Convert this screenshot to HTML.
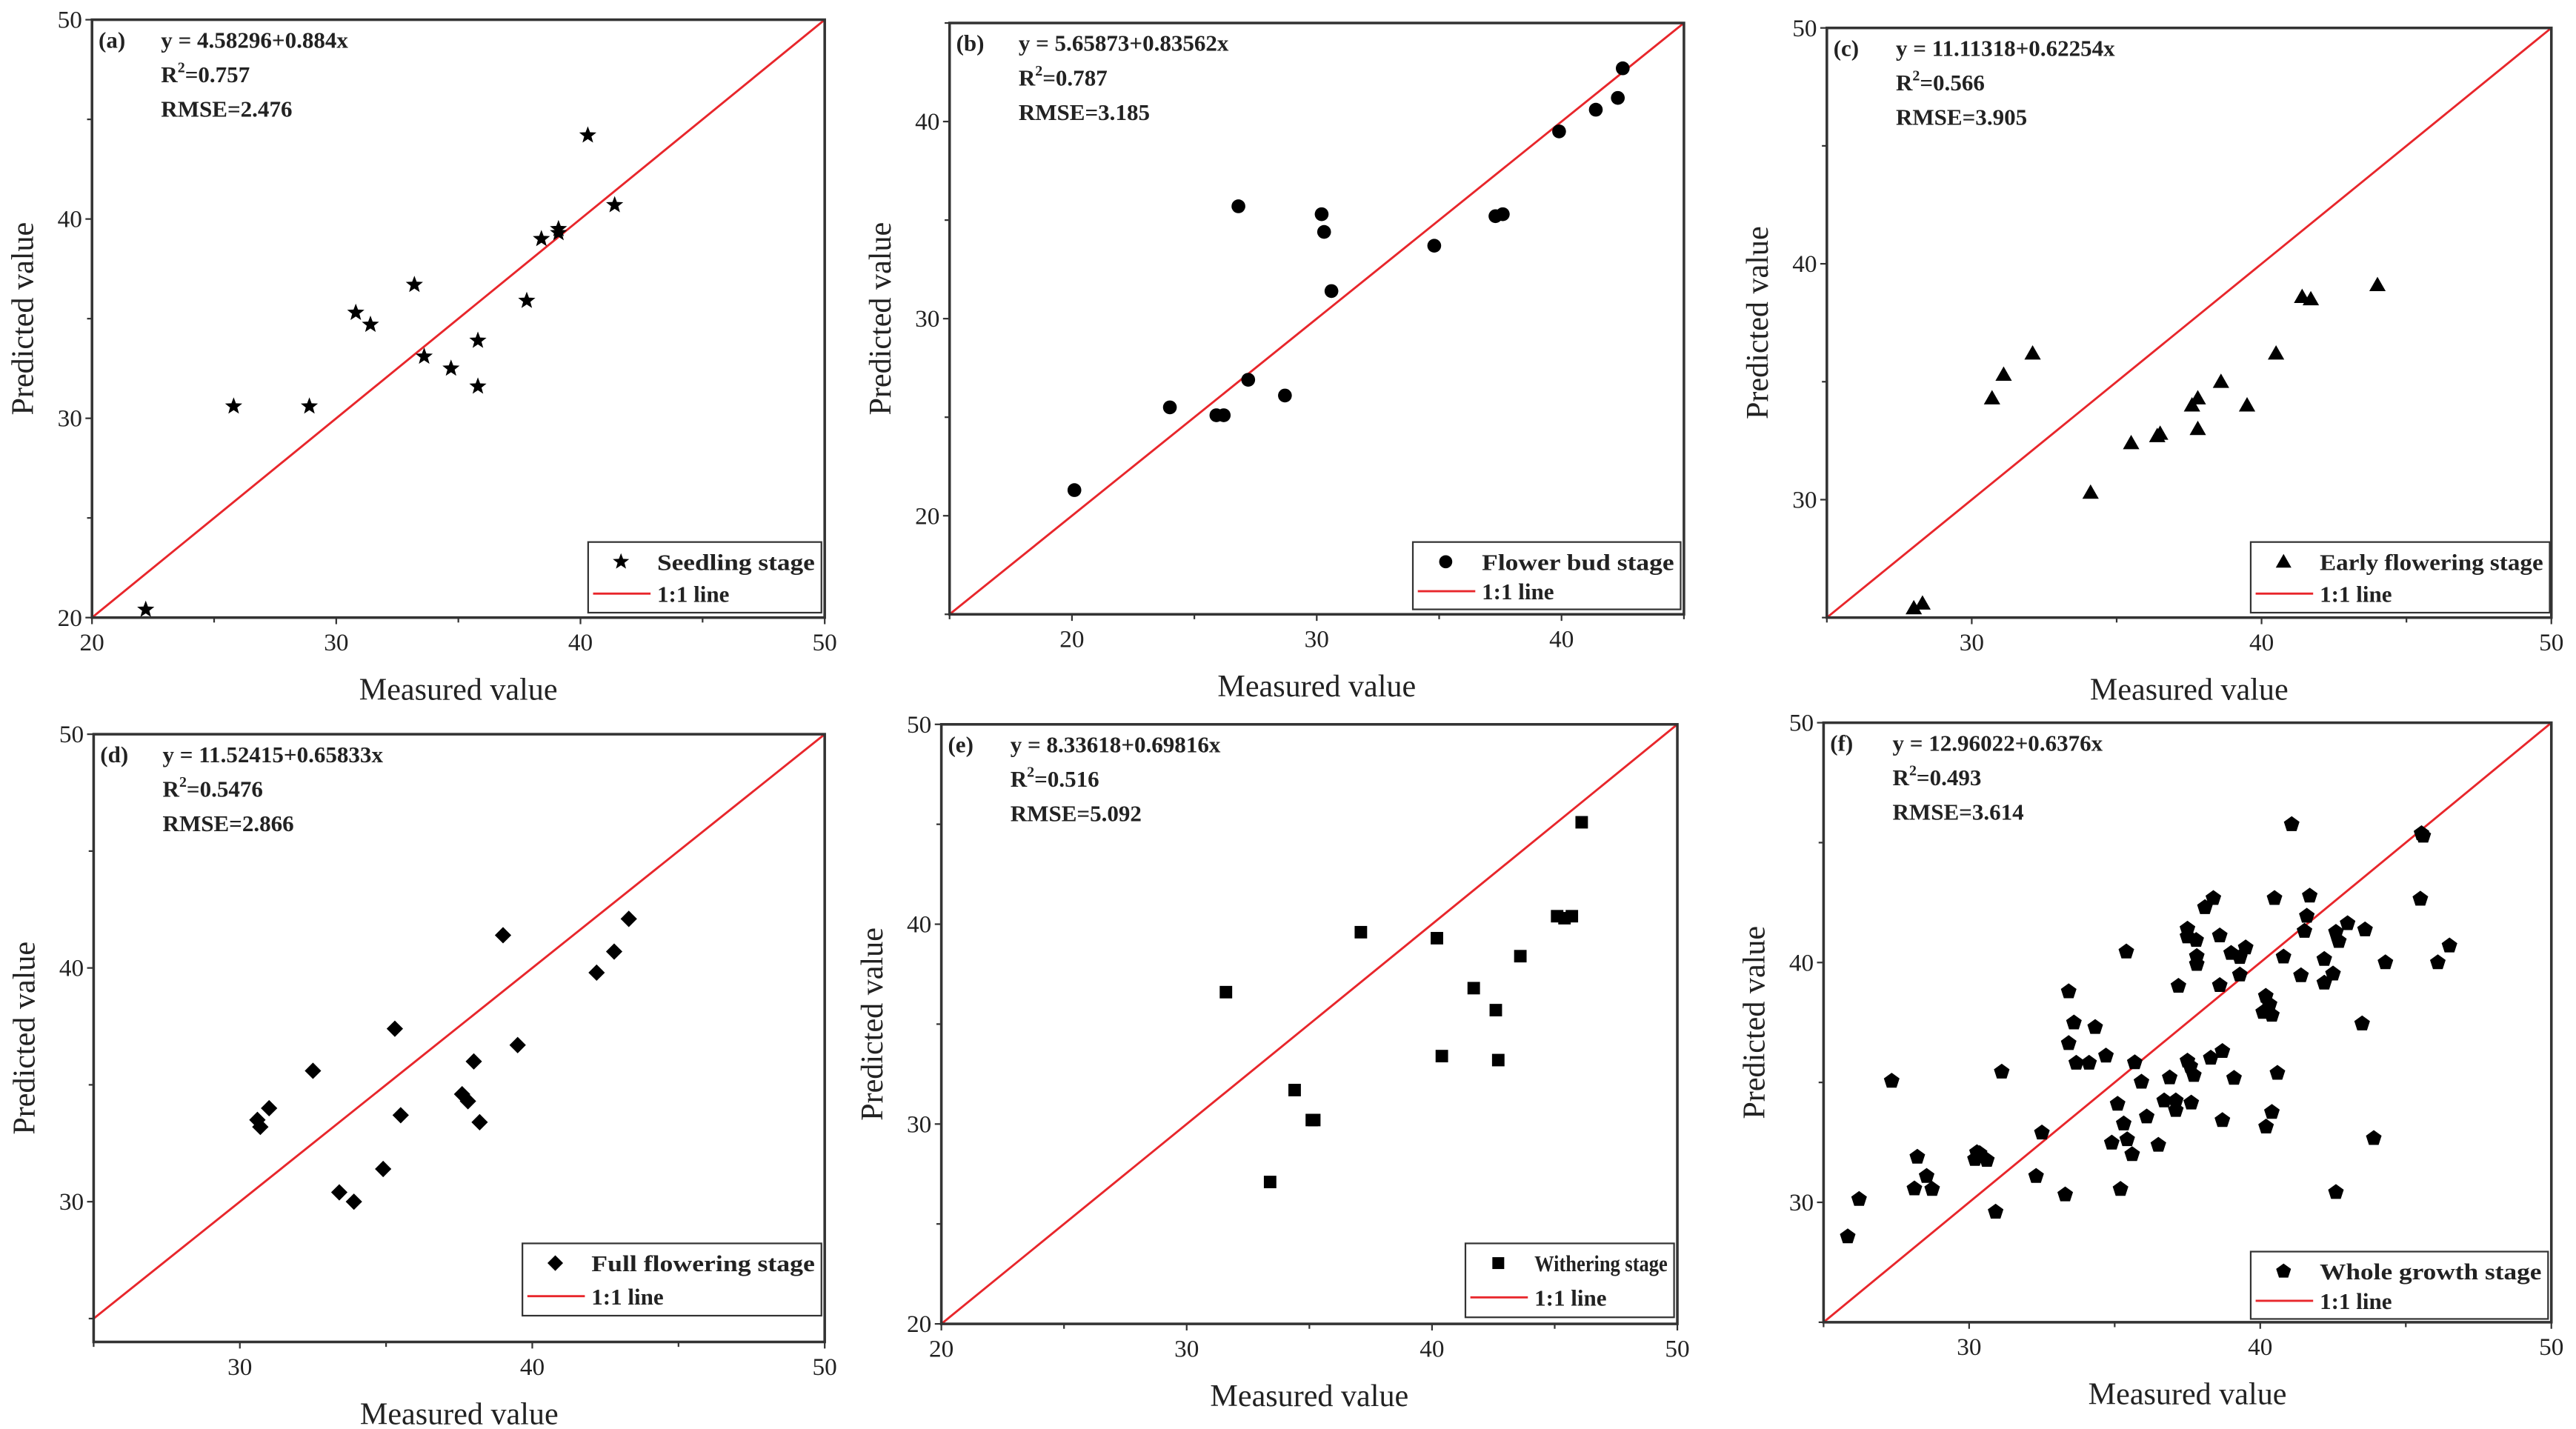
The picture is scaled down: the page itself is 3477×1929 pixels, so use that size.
<!DOCTYPE html>
<html><head><meta charset="utf-8"><style>
html,body{margin:0;padding:0;background:#fff;}
svg{display:block;}
svg text{font-family:"Liberation Serif","DejaVu Serif",serif;fill:#222;}
</style></head><body>
<svg id="fig" width="3477" height="1929" viewBox="0 0 1568 870" preserveAspectRatio="none" font-family="Liberation Serif, DejaVu Serif, serif" xmlns="http://www.w3.org/2000/svg"></svg>
<script>
// ----- data -----
const aMeasured=[22.2,25.8,28.9,30.8,31.4,33.2,33.6,34.7,35.8,35.8,37.8,38.4,39.1,39.1,40.3,41.4];
const aPredicted=[20.4,30.6,30.6,35.3,34.7,36.7,33.1,32.5,33.9,31.6,35.9,39.0,39.5,39.3,44.2,40.7];
const bMeasured=[20.1,24.0,25.9,26.2,27.2,26.8,28.7,30.2,30.3,30.6,34.8,37.3,37.6,39.9,41.4,42.3,42.5];
const bPredicted=[21.3,25.5,25.1,25.1,26.9,35.7,26.1,35.3,34.4,31.4,33.7,35.2,35.3,39.5,40.6,41.2,42.7];
const cMeasured=[28.0,28.3,30.7,31.1,32.1,34.1,35.5,36.4,36.5,37.6,37.8,37.8,38.6,39.5,40.5,41.4,41.7,44.0];
const cPredicted=[25.4,25.6,34.3,35.3,36.2,30.3,32.4,32.7,32.8,34.0,34.3,33.0,35.0,34.0,36.2,38.6,38.5,39.1];
const dMeasured=[30.6,30.7,31.0,32.5,33.4,33.9,34.9,35.3,35.5,37.6,37.8,38.0,38.2,39.0,39.5,42.2,42.8,43.3];
const dPredicted=[33.5,33.2,34.0,35.6,30.4,30.0,31.4,37.4,33.7,34.6,34.3,36.0,33.4,41.4,36.7,39.8,40.7,42.1];
const eMeasured=[31.6,33.4,34.4,35.1,35.2,37.1,40.2,40.4,41.7,42.6,42.7,43.6,45.1,45.4,45.7,46.1];
const ePredicted=[36.6,27.1,31.7,30.2,30.2,39.6,39.3,33.4,36.8,35.7,33.2,38.4,40.4,40.3,40.4,45.1];
const fMeasured=[25.83,26.22,27.34,28.22,28.12,28.54,28.73,30.27,30.2,30.36,30.61,30.91,31.12,32.3,32.5,33.3,33.42,33.42,33.6,33.68,34.12,34.33,34.7,34.9,35.1,35.2,35.31,35.43,35.4,35.6,35.69,35.92,36.1,36.5,36.7,36.89,37.1,37.1,37.19,37.5,37.5,37.5,37.6,37.63,37.72,37.8,37.82,37.82,38.1,38.39,38.3,38.61,38.61,38.7,38.7,39.0,39.1,39.3,39.3,39.5,40.1,40.19,40.32,40.4,40.2,40.4,40.49,40.59,40.8,41.08,41.4,41.52,41.6,41.7,42.2,42.2,42.5,42.6,42.7,42.6,43.0,43.5,43.6,43.9,44.3,45.5,45.54,45.6,46.1,46.5];
const fPredicted=[28.57,30.13,35.06,31.89,30.57,31.09,30.55,32.08,31.8,32.04,31.76,29.6,35.44,31.09,32.9,30.32,38.79,36.63,37.49,35.81,35.81,37.3,36.11,32.48,34.1,30.55,33.28,32.62,40.45,32.0,35.83,35.02,33.57,32.39,34.24,35.2,34.24,33.84,39.02,41.4,41.08,35.9,35.67,34.15,35.3,40.93,40.26,39.93,42.3,42.68,36.02,41.12,39.05,36.3,33.42,40.39,35.18,40.22,39.49,40.62,37.93,38.6,38.25,37.81,33.15,33.76,42.68,35.39,40.24,45.76,39.46,41.31,41.94,42.78,40.14,39.15,39.53,41.27,40.89,30.42,41.63,37.45,41.37,32.67,40.0,42.65,45.38,45.28,40.0,40.7];
const panelLabels=["(a)","(b)","(c)","(d)","(e)","(f)"];
const equations=["y = 4.58296+0.884x","y = 5.65873+0.83562x","y = 11.11318+0.62254x","y = 11.52415+0.65833x","y = 8.33618+0.69816x","y = 12.96022+0.6376x"];
const r2Values=["0.757","0.787","0.566","0.5476","0.516","0.493"];
const rmseValues=["2.476","3.185","3.905","2.866","5.092","3.614"];
const stageNames=["Seedling stage","Flower bud stage","Early flowering stage","Full flowering stage","Withering stage","Whole growth stage"];
const xTicksA=[20,30,40,50], xTicksB=[20,30,40], xTicksC=[30,40,50];
const yTicksA=[20,30,40,50], yTicksB=[20,30,40], yTicksC=[30,40,50];
// ----- layout -----
const panels=[
 {id:"a",x0:56,x1:502,y0:12,y1:376,xd:[20,50],yd:[20,50],xt:xTicksA,yt:yTicksA,mx:aMeasured,py:aPredicted,m:"star",leg:[358,330,142,43],lim:[20,50]},
 {id:"b",x0:578,x1:1025,y0:14,y1:374,xd:[15,45],yd:[15,45],xt:xTicksB,yt:yTicksB,mx:bMeasured,py:bPredicted,m:"circle",leg:[860,330,163,41],lim:[15,45]},
 {id:"c",x0:1112,x1:1553,y0:17,y1:376,xd:[25,50],yd:[25,50],xt:xTicksC,yt:yTicksC,mx:cMeasured,py:cPredicted,m:"triangle",leg:[1370,330,182,43],lim:[25,50]},
 {id:"d",x0:57,x1:502,y0:447,y1:817,xd:[25,50],yd:[24,50],xt:xTicksC,yt:yTicksC,mx:dMeasured,py:dPredicted,m:"diamond",leg:[318,757,182,44],lim:[25,50]},
 {id:"e",x0:573,x1:1021,y0:441,y1:806,xd:[20,50],yd:[20,50],xt:xTicksA,yt:yTicksA,mx:eMeasured,py:ePredicted,m:"square",leg:[892,757,127,45],lim:[20,50]},
 {id:"f",x0:1110,x1:1553,y0:440,y1:805,xd:[25,50],yd:[25,50],xt:xTicksC,yt:yTicksC,mx:fMeasured,py:fPredicted,m:"pentagon",leg:[1370,762,181,41],lim:[25,50]}
];
const NS="http://www.w3.org/2000/svg";
const svg=document.getElementById("fig");
function mk(tag,attrs,parent){const e=document.createElementNS(NS,tag);for(const k in attrs)e.setAttribute(k,attrs[k]);(parent||svg).appendChild(e);return e;}
function marker(type,cx,cy,g,s){
  let e;
  if(type==="circle"){e=mk("circle",{cx:cx,cy:cy,r:4.2*s,fill:"#000"},g);}
  else if(type==="square"){e=mk("rect",{x:cx-3.8*s,y:cy-3.8*s,width:7.6*s,height:7.6*s,fill:"#000"},g);}
  else if(type==="diamond"){const r=5*s;e=mk("polygon",{points:`${cx},${cy-r} ${cx+r},${cy} ${cx},${cy+r} ${cx-r},${cy}`,fill:"#000"},g);}
  else if(type==="triangle"){const r=5*s;e=mk("polygon",{points:`${cx},${cy-r} ${cx+r},${cy+r*0.75} ${cx-r},${cy+r*0.75}`,fill:"#000"},g);}
  else{const n=type==="star"?10:5;const R=(type==="star"?5.5:5)*s;const ri=type==="star"?R*0.42:R;const pts=[];
    for(let i=0;i<n;i++){const a=-Math.PI/2+i*2*Math.PI/n;const rr=(type==="star"&&i%2)?ri:R;pts.push((cx+rr*Math.cos(a)).toFixed(2)+","+(cy+rr*Math.sin(a)).toFixed(2));}
    e=mk("polygon",{points:pts.join(" "),fill:"#000"},g);}
  return e;
}
const FF="Liberation Serif, DejaVu Serif, serif";
panels.forEach((p,i)=>{
  const g=mk("g",{"font-family":FF});
  
  
  const sx=v=>p.x0+(v-p.xd[0])/(p.xd[1]-p.xd[0])*(p.x1-p.x0);
  const sy=v=>p.y1-(v-p.yd[0])/(p.yd[1]-p.yd[0])*(p.y1-p.y0);
  const ln=mk("line",{x1:sx(p.lim[0]),y1:sy(p.lim[0]),x2:sx(p.lim[1]),y2:sy(p.lim[1]),stroke:"#e8262b","stroke-width":1.3},g);
  
  
  const fr=mk("rect",{x:p.x0,y:p.y0,width:p.x1-p.x0,height:p.y1-p.y0,fill:"none",stroke:"#333","stroke-width":1.6},g);
  
  
  for(let v=Math.ceil(p.xd[0]/5)*5;v<=p.xd[1];v+=5){const x=sx(v);const L=v%10===0?4:3;mk("line",{x1:x,y1:p.y1,x2:x,y2:p.y1+L,stroke:"#333","stroke-width":1},g);}
  for(let v=Math.ceil(p.yd[0]/5)*5;v<=p.yd[1];v+=5){const y=sy(v);const L=v%10===0?4:3;mk("line",{x1:p.x0-L,y1:y,x2:p.x0,y2:y,stroke:"#333","stroke-width":1},g);}
  p.xt.forEach(v=>{const t=mk("text",{x:sx(v),y:p.y1+20,"text-anchor":"middle","font-size":15,"font-family":FF},g);t.textContent=v;
    
    });
  p.yt.forEach(v=>{const t=mk("text",{x:p.x0-6,y:sy(v)+5,"text-anchor":"end","font-size":15,"font-family":FF},g);t.textContent=v;
    
    });
  const xt=mk("text",{x:(p.x0+p.x1)/2,y:p.y1+50,"text-anchor":"middle","font-size":19,"font-family":FF},g);xt.textContent="Measured value";
  
  
  const ycx=p.x0-36, ycy=(p.y0+p.y1)/2;
  const yt=mk("text",{x:ycx,y:ycy,"text-anchor":"middle","font-size":19,"font-family":FF,transform:`rotate(-90 ${ycx} ${ycy})`},g);yt.textContent="Predicted value";
  
  
  p.mx.forEach((v,k)=>{const e=marker(p.m,sx(v),sy(p.py[k]),g,1);
    
    });
  const lab=mk("text",{x:p.x0+4,y:p.y0+17,"font-size":14,"font-weight":"bold","font-family":FF},g);lab.textContent=panelLabels[i];
  
  
  const ax=p.x0+42;
  const eq=mk("text",{x:ax,y:p.y0+17,"font-size":14,"font-weight":"bold","font-family":FF},g);eq.textContent=equations[i];
  
  
  const r2=mk("text",{x:ax,y:p.y0+38,"font-size":14,"font-weight":"bold","font-family":FF},g);
  r2.innerHTML='R<tspan font-size="9" dy="-6">2</tspan><tspan dy="6">='+r2Values[i]+'</tspan>';
  
  
  const rm=mk("text",{x:ax,y:p.y0+59,"font-size":14,"font-weight":"bold","font-family":FF},g);rm.textContent="RMSE="+rmseValues[i];
  
  
  const [lx,ly,lw,lh]=p.leg;
  const lg=mk("g",{},g);
  
  
  mk("rect",{x:lx,y:ly,width:lw,height:lh,fill:"#fff",stroke:"#333","stroke-width":1},lg);
  marker(p.m,lx+20,ly+12,lg,0.95);
  const l1=mk("text",{x:lx+42,y:ly+17,"font-size":14,"font-weight":"bold","font-family":FF,textLength:lw-46,lengthAdjust:"spacingAndGlyphs"},lg);l1.textContent=stageNames[i];
  
  
  mk("line",{x1:lx+3,y1:ly+lh*0.73,x2:lx+38,y2:ly+lh*0.73,stroke:"#e8262b","stroke-width":1.3},lg);
  const l2=mk("text",{x:lx+42,y:ly+lh*0.73+5,"font-size":14,"font-weight":"bold","font-family":FF},lg);l2.textContent="1:1 line";
  
  
});
</script>
</body></html>
